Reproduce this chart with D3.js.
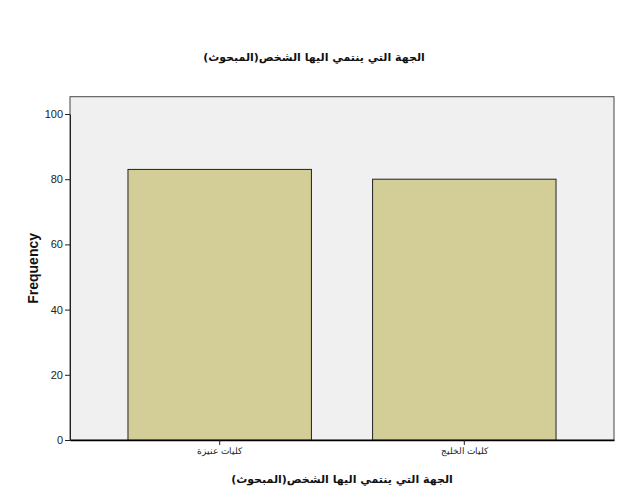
<!DOCTYPE html>
<meta charset="utf-8">
<style>
  body { margin: 0; background: #fff; }
  .tick text { font-family: 'Liberation Sans', Arial, sans-serif; }
</style>
<body>
<script src="https://cdnjs.cloudflare.com/ajax/libs/d3/7.8.5/d3.min.js"></script>
<script>
// data
var categories = ["كليات عنيزة", "كليات الخليج"];
var frequency = [83, 80];
var yTicks = [0, 20, 40, 60, 80, 100];
var title = "الجهة التي ينتمي اليها الشخص(المبحوث)";
var yLabel = "Frequency";

var W = 627, H = 502;
var left = 70, right = 614, bottom = 440;

var svg = d3.select("body").append("svg")
  .attr("width", W)
  .attr("height", H);

var x = d3.scaleBand()
  .domain(categories)
  .range([left, right])
  .paddingInner(0.25)
  .paddingOuter(0.237);

var y = d3.scaleLinear()
  .domain([0, 100])
  .range([bottom, 114]);

var plotTop = y(105.3);

// plot background
svg.append("rect")
  .attr("x", left)
  .attr("y", plotTop)
  .attr("width", right - left)
  .attr("height", bottom - plotTop)
  .attr("fill", "#f0f0f0")
  .attr("stroke", "#444")
  .attr("stroke-width", 1);

// bars
svg.selectAll(".bar")
  .data(frequency)
  .join("rect")
    .attr("class", "bar")
    .attr("x", function (d, i) { return x(categories[i]); })
    .attr("y", function (d) { return y(d); })
    .attr("width", x.bandwidth())
    .attr("height", function (d) { return y(0) - y(d); })
    .attr("fill", "#d3ce97")
    .attr("stroke", "#222")
    .attr("stroke-width", 1);

// y axis
var yAxis = svg.append("g")
  .attr("transform", "translate(" + left + ",0)")
  .call(d3.axisLeft(y).tickValues(yTicks).tickSize(5).tickPadding(2).tickSizeOuter(0));
yAxis.select(".domain").attr("stroke", "#222");
yAxis.selectAll(".tick line").attr("stroke", "#222");
yAxis.selectAll(".tick text").attr("font-size", 11).attr("fill", "#222");

// x axis
var xAxis = svg.append("g")
  .attr("transform", "translate(0," + bottom + ")")
  .call(d3.axisBottom(x).tickSize(5).tickPadding(3).tickSizeOuter(0));
xAxis.select(".domain").attr("stroke", "#000").attr("stroke-width", 1.5);
xAxis.selectAll(".tick line").attr("stroke", "#222");
xAxis.selectAll(".tick text")
  .attr("font-family", "'DejaVu Sans', sans-serif")
  .attr("font-size", 9)
  .attr("fill", "#222");

// titles
svg.append("text")
  .attr("x", 314)
  .attr("y", 61)
  .attr("text-anchor", "middle")
  .attr("font-family", "'DejaVu Sans', sans-serif")
  .attr("font-weight", "bold")
  .attr("font-size", 11)
  .attr("fill", "#111")
  .text(title);

svg.append("text")
  .attr("x", 342)
  .attr("y", 483)
  .attr("text-anchor", "middle")
  .attr("font-family", "'DejaVu Sans', sans-serif")
  .attr("font-weight", "bold")
  .attr("font-size", 11)
  .attr("fill", "#111")
  .text(title);

svg.append("text")
  .attr("transform", "translate(38," + ((plotTop + bottom) / 2) + ") rotate(-90)")
  .attr("text-anchor", "middle")
  .attr("font-family", "'Liberation Sans', Arial, sans-serif")
  .attr("font-weight", "bold")
  .attr("font-size", 14)
  .attr("fill", "#111")
  .text(yLabel);
</script>
</body>
